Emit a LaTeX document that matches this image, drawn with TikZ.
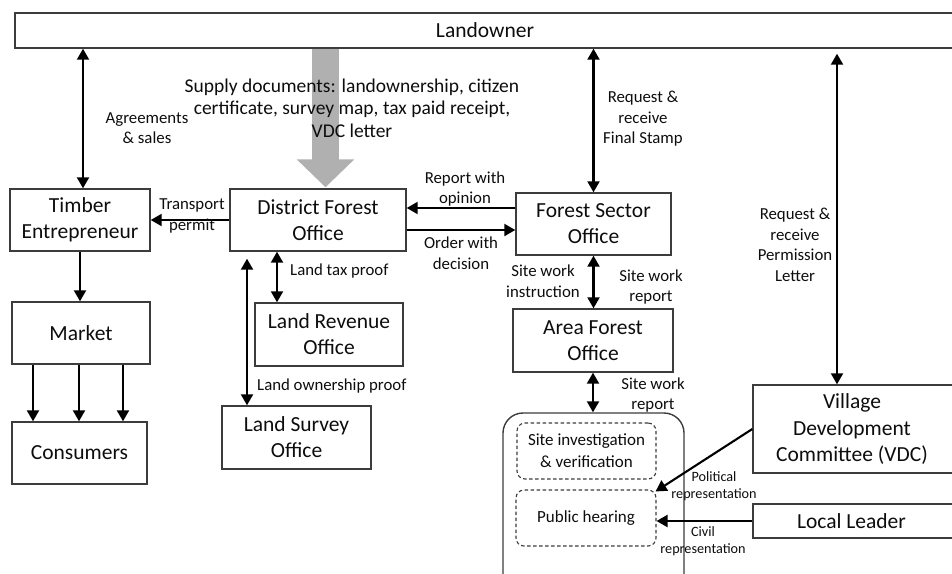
\documentclass[tikz,border=0pt]{standalone}
\usepackage{fontspec}
\setmainfont{Carlito}
\usetikzlibrary{arrows.meta,calc}
\definecolor{boxgray}{HTML}{3C3C3C}
\definecolor{txt}{HTML}{0D0D0D}
\definecolor{supplygray}{HTML}{B0B0B0}
\tikzset{
 box/.style={draw=boxgray, line width=1.4pt, inner sep=0pt, align=center, text=txt,
   font=\fontsize{21.5pt}{26pt}\selectfont},
 dbox/.style={draw=boxgray, line width=1.1pt, dash pattern=on 3.5pt off 2.5pt, rounded corners=8pt,
   inner sep=0pt, align=center, text=txt, font=\fontsize{17pt}{22pt}\selectfont},
 lbl/.style={align=center, inner sep=0pt, text=txt, font=\fontsize{16.8pt}{20.6pt}\selectfont},
 slbl/.style={align=center, inner sep=0pt, text=txt, font=\fontsize{14.2pt}{17pt}\selectfont},
 bigtxt/.style={align=center, inner sep=0pt, text=txt, font=\fontsize{21.5pt}{26.5pt}\selectfont},
 arr/.style={line width=2.1pt, -{Triangle[length=11pt,width=12pt]}},
 dbl/.style={line width=2.1pt, {Triangle[length=11pt,width=12pt]}-{Triangle[length=11pt,width=12pt]}},
}
\begin{document}
\begin{tikzpicture}[x=1pt,y=-1pt]
\useasboundingbox (0,0) rectangle (952,573);
\clip (0,0) rectangle (952,573);
% boxes
\node[box, minimum width=940pt, minimum height=35pt] (landowner) at (485,30.5) {Landowner};
\node[box, minimum width=140pt, minimum height=62pt] (timber) at (80,220) {Timber\\Entrepreneur};
\node[box, minimum width=176pt, minimum height=62pt] (dfo) at (318,220) {District Forest\\Office};
\node[box, minimum width=155pt, minimum height=62pt] (fso) at (593.5,224) {Forest Sector\\Office};
\node[box, minimum width=148pt, minimum height=63pt] (lro) at (329,334.5) {Land Revenue\\Office};
\node[box, minimum width=138pt, minimum height=62pt] (market) at (81,333) {Market};
\node[box, minimum width=135pt, minimum height=62pt] (consumers) at (79.5,453) {Consumers};
\node[box, minimum width=149pt, minimum height=63pt] (lso) at (296.5,437.5) {Land Survey\\Office};
\node[box, minimum width=160pt, minimum height=63pt] (afo) at (593,340.5) {Area Forest\\Office};
\node[draw=boxgray, line width=1.4pt, rounded corners=20pt, minimum width=181pt, minimum height=200pt, inner sep=0pt] (cont) at (593.5,513) {};
\node[dbox, minimum width=139pt, minimum height=56pt] (site) at (586.5,451) {Site investigation\\\& verification};
\node[dbox, minimum width=140pt, minimum height=56pt] (hearing) at (586,518) {Public hearing};
\node[box, minimum width=210pt, minimum height=88pt] (vdc) at (858,429) {};
\node[bigtxt] (vdct) at (852,429.5) {Village\\Development\\Committee (VDC)};
\node[box, minimum width=210pt, minimum height=34pt] (local) at (858,521) {};
\node[bigtxt] (localt) at (851.5,521) {Local Leader};
% supply arrow
\draw[supplygray, line width=27pt, -{Triangle[length=28pt,width=56pt]}]
  ([xshift=7.5pt]dfo.north |- landowner.south) -- ([xshift=7.5pt,yshift=1pt]dfo.north);
\node[align=center, inner sep=0pt, text=txt, font=\fontsize{19.5pt}{22.5pt}\selectfont] (supply) at (352,108)
  {Supply documents: landownership, citizen\\certificate, survey map, tax paid receipt,\\VDC letter};
% connectors
\draw[dbl] ([xshift=3pt]timber.north) -- ([xshift=3pt]timber.north |- landowner.south);
\node[lbl] (agr) at (147,128) {Agreements\\\& sales};
\draw[arr] (dfo.west) -- (timber.east);
\node[lbl] (tp) at (192,216) {Transport\\permit};
\draw[arr] ([yshift=12pt]dfo.east -| fso.west) -- ([yshift=12pt]dfo.east);
\node[lbl] (rwo) at (465,189) {Report with\\opinion};
\draw[arr] ([yshift=-10pt]dfo.east) -- ([yshift=-10pt]dfo.east -| fso.west);
\node[lbl] (owd) at (461,253) {Order with\\decision};
\draw[dbl] ([xshift=-52pt]lro.north) -- ([xshift=-52pt]lro.north |- dfo.south);
\node[lbl, anchor=west] (ltp) at (290,271) {Land tax proof};
\draw[dbl] ([xshift=-49.5pt]lso.north) -- ([xshift=-49.5pt,yshift=-7pt]lso.north |- dfo.south);
\node[lbl, anchor=west] (lop) at (257,386) {Land ownership proof};
\draw[arr] (timber.south) -- (timber.south |- market.north);
\draw[arr] ([xshift=-48pt]market.south) -- ([xshift=-48pt]market.south |- consumers.north);
\draw[arr] ([xshift=-2pt]market.south) -- ([xshift=-2pt]market.south |- consumers.north);
\draw[arr] ([xshift=42pt]market.south) -- ([xshift=42pt]market.south |- consumers.north);
\draw[dbl] (fso.north) -- (fso.north |- landowner.south);
\node[lbl] (fs) at (643,119) {Request \&\\receive\\Final Stamp};
\draw[dbl] (fso.south) -- (fso.south |- afo.north);
\node[lbl] (swi) at (543,281) {Site work\\instruction};
\node[lbl] (swr1) at (651,287) {Site work\\report};
\draw[dbl] (afo.south) -- (afo.south |- cont.north);
\node[lbl] (swr2) at (653,395) {Site work\\report};
\draw[dbl] ([xshift=-21pt]vdc.north) -- ([xshift=-21pt,yshift=-5pt]vdc.north |- landowner.south);
\node[lbl] (pl) at (795,245) {Request \&\\receive\\Permission\\Letter};
\draw[arr] (vdc.west) -- ([xshift=-1pt,yshift=-2pt]hearing.north east);
\node[slbl] (pol) at (714,486) {Political\\representation};
\draw[arr] (local.west) -- (local.west -| hearing.east);
\node[slbl] (civ) at (703,541) {Civil\\representation};
\end{tikzpicture}
\end{document}
